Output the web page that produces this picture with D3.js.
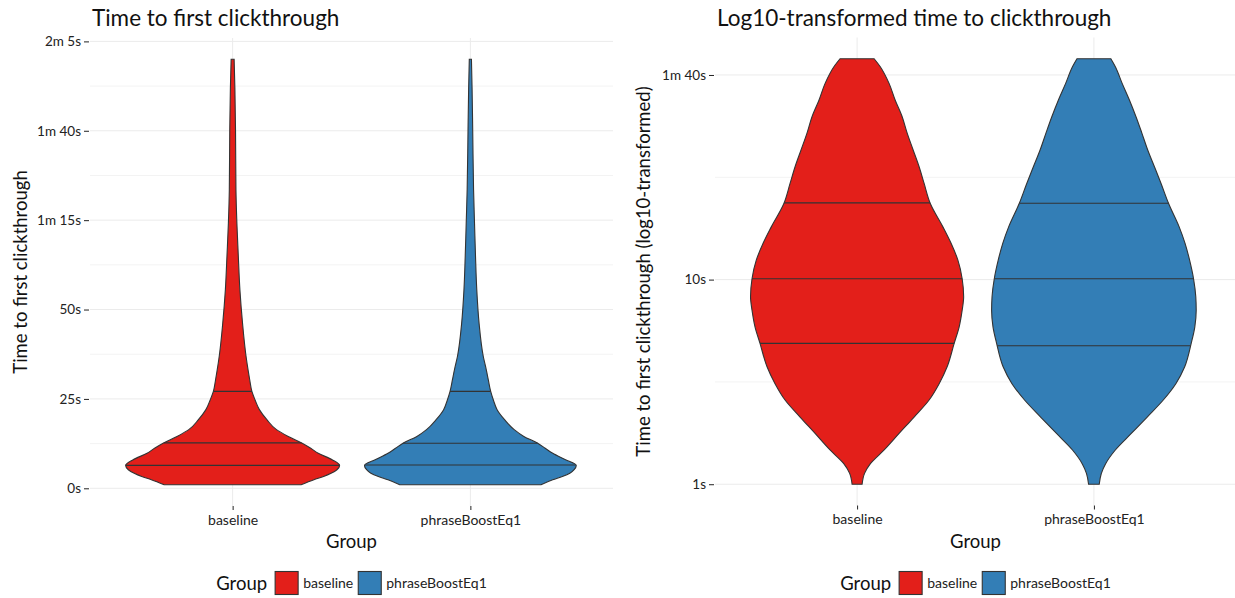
<!DOCTYPE html>
<html>
<head>
<meta charset="utf-8">
<script src="https://cdn.jsdelivr.net/npm/d3@7/dist/d3.min.js"></script>
<style>
  html, body { margin: 0; padding: 0; background: #fff; }
  svg { display: block; font-family: Lato, "Open Sans", sans-serif; }
</style>
</head>
<body>
<svg id="chart" width="1235" height="598"></svg>
<script>
// ---------------- DATA ----------------
const categories = ["baseline", "phraseBoostEq1"];
const groupColors = ["#E31F1A", "#337EB6"];

// Left panel: time (seconds) grid and relative violin widths (density, max = 1)
const linTime = [1, 2.4, 3.3, 4.2, 5.2, 6.4, 8.0, 9.8, 11.2, 12.6, 14.5, 16.4, 19.2, 22, 24.7, 27.1, 30.3, 33, 37, 46, 55.5, 65, 74, 83.5, 100, 112, 120];
const linBaseline = [0.64, 0.76, 0.85, 0.92, 0.975, 1.0, 0.93, 0.80, 0.73, 0.65, 0.52, 0.41, 0.32, 0.25, 0.21, 0.18, 0.16, 0.145, 0.125, 0.093, 0.068, 0.053, 0.04, 0.031, 0.027, 0.021, 0.014];
const linPhrase   = [0.66, 0.77, 0.86, 0.93, 0.97, 0.99, 0.89, 0.77, 0.70, 0.63, 0.50, 0.41, 0.32, 0.25, 0.215, 0.19, 0.168, 0.15, 0.12, 0.082, 0.06, 0.048, 0.039, 0.03, 0.022, 0.016, 0.01];
const linQuantBaseline = [6.4, 12.7, 27.1];
const linQuantPhrase   = [6.5, 12.6, 27.1];
const linTicks = [0, 25, 50, 75, 100, 125];
const linTickLabels = ["0s", "25s", "50s", "1m 15s", "1m 40s", "2m 5s"];
const linMinor = [12.5, 37.5, 62.5, 87.5, 112.5];

// Right panel: time (seconds, log scale) grid and relative violin widths
const logTime = [1, 1.13, 1.26, 1.47, 1.77, 2.13, 2.58, 3.1, 3.75, 4.88, 5.88, 7.09, 8.24, 10.1, 12.45, 15, 18.1, 23.6, 29.5, 35.6, 43, 52, 62.5, 75.5, 91, 110, 120];
const logBaseline = [0.047, 0.07, 0.125, 0.254, 0.394, 0.535, 0.676, 0.77, 0.845, 0.911, 0.958, 0.986, 1.0, 0.986, 0.946, 0.883, 0.805, 0.686, 0.629, 0.582, 0.526, 0.47, 0.423, 0.357, 0.30, 0.216, 0.16];
const logPhrase   = [0.05, 0.07, 0.11, 0.201, 0.351, 0.50, 0.651, 0.769, 0.852, 0.913, 0.947, 0.96, 0.956, 0.935, 0.898, 0.856, 0.80, 0.70, 0.63, 0.568, 0.505, 0.45, 0.395, 0.333, 0.265, 0.20, 0.159];
const logQuantBaseline = [4.88, 10.1, 23.7];
const logQuantPhrase   = [4.75, 10.1, 23.6];
const logTicks = [1, 10, 100];
const logTickLabels = ["1s", "10s", "1m 40s"];
const logMinor = [Math.sqrt(10), Math.sqrt(1000)];

// ---------------- DRAW ----------------
const svg = d3.select("#chart");
const ink = "#222";
const outline = "#333333";

function panel(opts) {
  const { x0, x1, y0, y1, title, yTitle, yTitleX, log, time, widths, quants, ticks, tickLabels, minor } = opts;
  const g = svg.append("g");

  const xs = d3.scalePoint().domain(categories).range([x0, x1]).padding(0.6);
  let ys;
  const [lo, hi] = d3.extent(time);
  if (log) {
    const llo = Math.log10(lo), lhi = Math.log10(hi), p = 0.05 * (lhi - llo);
    ys = d3.scaleLog().domain([Math.pow(10, llo - p), Math.pow(10, lhi + p)]).range([y1, y0]);
  } else {
    const p = 0.05 * (hi - lo);
    ys = d3.scaleLinear().domain([lo - p, hi + p]).range([y1, y0]);
  }
  const wScale = d3.scaleLinear().domain([0, 1]).range([0, 0.45 * xs.step()]);

  // grid
  g.selectAll(".minor").data(minor).join("line")
    .attr("x1", x0).attr("x2", x1)
    .attr("y1", d => ys(d)).attr("y2", d => ys(d))
    .attr("stroke", "#f3f3f3").attr("stroke-width", 1);
  g.selectAll(".major").data(ticks).join("line")
    .attr("x1", x0).attr("x2", x1)
    .attr("y1", d => ys(d)).attr("y2", d => ys(d))
    .attr("stroke", "#ebebeb").attr("stroke-width", 1);
  g.selectAll(".vgrid").data(categories).join("line")
    .attr("x1", d => xs(d)).attr("x2", d => xs(d))
    .attr("y1", y0).attr("y2", y1)
    .attr("stroke", "#ebebeb").attr("stroke-width", 1);

  // y axis ticks + labels
  const yAxis = d3.axisLeft(ys).tickValues(ticks).tickFormat((d, i) => tickLabels[i]).tickSize(5).tickPadding(3);
  const ya = g.append("g").attr("transform", `translate(${x0 - 1},0)`).call(yAxis);
  ya.select(".domain").remove();
  ya.selectAll(".tick line").attr("stroke", ink).attr("stroke-width", 1);
  ya.selectAll(".tick text").attr("fill", ink).style("font-size", "13.5px").style("font-family", "Lato, sans-serif");

  // x axis
  const xAxis = d3.axisBottom(xs).tickSize(4).tickPadding(5);
  const xa = g.append("g").attr("transform", `translate(0,${y1})`).call(xAxis);
  xa.select(".domain").remove();
  xa.selectAll(".tick line").attr("stroke", ink);
  xa.selectAll(".tick text").attr("fill", ink).style("font-size", "14px").style("font-family", "Lato, sans-serif");

  // violins
  categories.forEach((c, ci) => {
    const pts = time.map((t, i) => ({ t, w: widths[ci][i] }));
    const cx = xs(c);
    const area = d3.area()
      .y(d => ys(d.t))
      .x0(d => cx - wScale(d.w))
      .x1(d => cx + wScale(d.w))
      .curve(d3.curveMonotoneY);
    g.append("path").datum(pts)
      .attr("d", area)
      .attr("fill", groupColors[ci])
      .attr("stroke", outline).attr("stroke-width", 1.1);

    // quantile lines: width interpolated in pixel space
    const py = pts.map(d => ys(d.t));
    const qw = q => {
      const y = ys(q);
      for (let i = 0; i < py.length - 1; i++) {
        const a = py[i], b = py[i + 1];
        if ((y <= a && y >= b) || (y >= a && y <= b)) {
          const f = (y - a) / (b - a);
          return wScale(pts[i].w + f * (pts[i + 1].w - pts[i].w));
        }
      }
      return 0;
    };
    g.selectAll(null).data(quants[ci]).join("line")
      .attr("x1", d => cx - qw(d)).attr("x2", d => cx + qw(d))
      .attr("y1", d => ys(d)).attr("y2", d => ys(d))
      .attr("stroke", outline).attr("stroke-width", 1.1);
  });

  // title
  g.append("text").attr("x", x0 + 2).attr("y", 26).text(title)
    .attr("fill", "#111").style("font-size", "22.5px");
  // y title
  g.append("text").attr("transform", `translate(${yTitleX},${(y0 + y1) / 2}) rotate(-90)`)
    .attr("text-anchor", "middle").text(yTitle)
    .attr("fill", "#111").style("font-size", "18.5px");
  // x title
  g.append("text").attr("x", (x0 + x1) / 2).attr("y", 548).attr("text-anchor", "middle")
    .text("Group").attr("fill", "#111").style("font-size", "18.5px");

  // legend (centered under panel)
  const lg = g.append("g");
  const lt = lg.append("text").attr("x", 0).attr("y", 590).text("Group")
    .attr("fill", "#111").style("font-size", "18.5px");
  let cur = lt.node().getComputedTextLength() + 8;
  categories.forEach((c, ci) => {
    lg.append("rect").attr("x", cur).attr("y", 571.5).attr("width", 23).attr("height", 23)
      .attr("fill", groupColors[ci]).attr("stroke", outline).attr("stroke-width", 1.1);
    cur += 23 + 5;
    const tx = lg.append("text").attr("x", cur).attr("y", 588).text(c)
      .attr("fill", ink).style("font-size", "14px");
    cur += tx.node().getComputedTextLength() + 5;
  });
  cur -= 5;
  lg.attr("transform", `translate(${(x0 + x1) / 2 - cur / 2},0)`);
}

panel({
  x0: 90, x1: 613, y0: 38, y1: 506,
  title: "Time to first clickthrough",
  yTitle: "Time to first clickthrough", yTitleX: 27,
  log: false, time: linTime, widths: [linBaseline, linPhrase],
  quants: [linQuantBaseline, linQuantPhrase],
  ticks: linTicks, tickLabels: linTickLabels, minor: linMinor
});

panel({
  x0: 715, x1: 1236, y0: 37.5, y1: 505.5,
  title: "Log10-transformed time to clickthrough",
  yTitle: "Time to first clickthrough (log10-transformed)", yTitleX: 650,
  log: true, time: logTime, widths: [logBaseline, logPhrase],
  quants: [logQuantBaseline, logQuantPhrase],
  ticks: logTicks, tickLabels: logTickLabels, minor: logMinor
});
</script>
</body>
</html>
